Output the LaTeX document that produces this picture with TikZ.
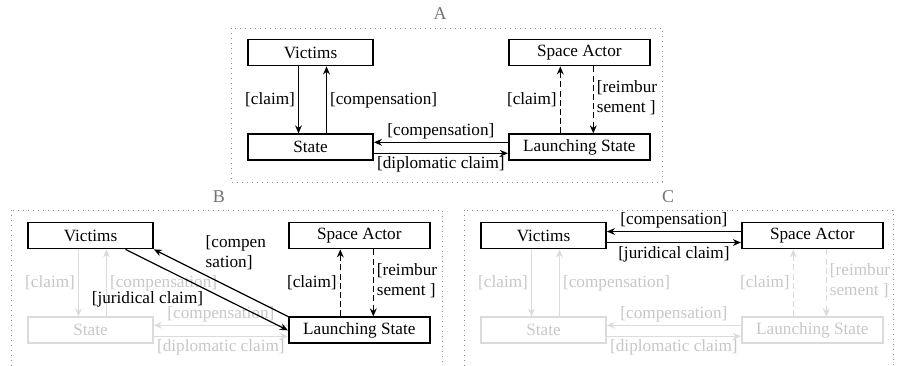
\documentclass[tikz,border=0pt]{standalone}
\usepackage{fontspec}
\setmainfont{Liberation Serif}
\usepackage{tikz}
\usetikzlibrary{arrows.meta,positioning}

\begin{document}
\begin{tikzpicture}[
				x=0.5pt, y=-0.5pt,
				font=\fontsize{8.6pt}{10pt}\selectfont,
				box/.style={rectangle, draw, line width=0.9pt, minimum width=62.5pt, minimum height=13pt, inner sep=1pt},
				wbox/.style={box, minimum width=70.5pt},
				faded/.style={draw=black!14, text=black!22},
				arrow/.style={line width=0.6pt, -{Stealth[length=4pt, width=3.4pt]}},
				darrow/.style={arrow, dash pattern=on 3pt off 1.6pt},
				lbl/.style={inner sep=1.5pt, align=left},
				frame/.style={draw=black!45, line width=0.5pt, dotted},
				title/.style={text=black!55, font=\fontsize{9pt}{10pt}\selectfont}
				]
				\useasboundingbox (0,0) rectangle (900,365);

				% panel A
				\draw [frame] (231,28) rectangle (662,182);
				\node (titleA) [title] at (440,14) {A};
				\node (victimsA) [box] at (310.5,52.5) {Victims};
				\node (actorA) [wbox, right=67pt of victimsA] {Space Actor};
				\node (stateA) [box, below=33.5pt of victimsA] {State};
				\node (launchA) [wbox, right=67pt of stateA] {Launching State};

				\draw [arrow] ([xshift=-6pt]victimsA.south) -- node[lbl, left] {[claim]} ([xshift=-6pt]stateA.north);
				\draw [arrow] ([xshift=8pt]stateA.north) -- node[lbl, right] {[compensation]} ([xshift=8pt]victimsA.south);
				\draw [darrow] ([xshift=-9.5pt]launchA.north) -- node[lbl, left] {[claim]} ([xshift=-9.5pt]actorA.south);
				\draw [darrow] ([xshift=7pt]actorA.south) -- node[lbl, right, yshift=1pt] {[reimbur\\sement ]} ([xshift=7pt]launchA.north);
				\draw [arrow] ([yshift=2.5pt]launchA.west) -- node[lbl, above] {[compensation]} ([yshift=2.5pt]stateA.east);
				\draw [arrow] ([yshift=-3pt]stateA.east) -- node[lbl, below] {[diplomatic claim]} ([yshift=-3pt]launchA.west);

				% panel B
				\draw [frame] (11,210) rectangle (442,368);
				\node (titleB) [title] at (219,197) {B};
				\node (victimsB) [box] at (90.5,235.5) {Victims};
				\node (actorB) [wbox, right=67pt of victimsB] {Space Actor};
				\node (stateB) [box, faded, below=33.5pt of victimsB] {State};
				\node (launchB) [wbox, right=67pt of stateB] {Launching State};

				\draw [arrow, faded] ([xshift=-6pt]victimsB.south) -- node[lbl, left] {[claim]} ([xshift=-6pt]stateB.north);
				\draw [arrow, faded] ([xshift=8pt]stateB.north) -- node[lbl, right] {[compensation]} ([xshift=8pt]victimsB.south);
				\draw [arrow, faded] ([yshift=2.5pt]launchB.west) -- node[lbl, above] {[compensation]} ([yshift=2.5pt]stateB.east);
				\draw [arrow, faded] ([yshift=-3pt]stateB.east) -- node[lbl, below] {[diplomatic claim]} ([yshift=-3pt]launchB.west);
				\draw [darrow] ([xshift=-9.5pt]launchB.north) -- node[lbl, left] {[claim]} ([xshift=-9.5pt]actorB.south);
				\draw [darrow] ([xshift=7pt]actorB.south) -- node[lbl, right, yshift=1pt] {[reimbur\\sement ]} ([xshift=7pt]launchB.north);
				\draw [arrow] (launchB.north west) -- node[lbl, pos=0.64, anchor=south west] {[compen\\sation]} (victimsB.south east);
				\draw [arrow] ([xshift=17.5pt]victimsB.south) -- node[lbl, anchor=north east, yshift=1pt] {[juridical claim]} (launchB.west);

				% panel C
				\draw [frame] (464,210) rectangle (893,368);
				\node (titleC) [title] at (668,197) {C};
				\node (victimsC) [box] at (543.5,235.5) {Victims};
				\node (actorC) [wbox, right=67pt of victimsC] {Space Actor};
				\node (stateC) [box, faded, below=33.5pt of victimsC] {State};
				\node (launchC) [wbox, faded, right=67pt of stateC] {Launching State};

				\draw [arrow, faded] ([xshift=-6pt]victimsC.south) -- node[lbl, left] {[claim]} ([xshift=-6pt]stateC.north);
				\draw [arrow, faded] ([xshift=8pt]stateC.north) -- node[lbl, right] {[compensation]} ([xshift=8pt]victimsC.south);
				\draw [arrow, faded] ([yshift=2.5pt]launchC.west) -- node[lbl, above] {[compensation]} ([yshift=2.5pt]stateC.east);
				\draw [arrow, faded] ([yshift=-3pt]stateC.east) -- node[lbl, below] {[diplomatic claim]} ([yshift=-3pt]launchC.west);
				\draw [darrow, faded] ([xshift=-9.5pt]launchC.north) -- node[lbl, left] {[claim]} ([xshift=-9.5pt]actorC.south);
				\draw [darrow, faded] ([xshift=7pt]actorC.south) -- node[lbl, right, yshift=1pt] {[reimbur\\sement ]} ([xshift=7pt]launchC.north);
				\draw [arrow] ([yshift=2pt]actorC.west) -- node[lbl, above] {[compensation]} ([yshift=2pt]victimsC.east);
				\draw [arrow] ([yshift=-3.5pt]victimsC.east) -- node[lbl, below] {[juridical claim]} ([yshift=-3.5pt]actorC.west);
			\end{tikzpicture}
\end{document}
